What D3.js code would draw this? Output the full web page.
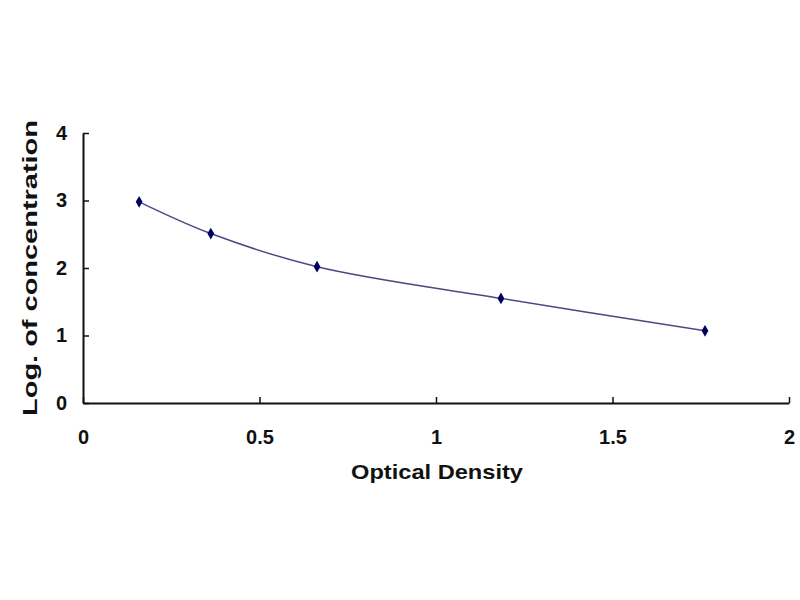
<!DOCTYPE html>
<html>
<head>
<meta charset="utf-8">
<script src="https://cdn.jsdelivr.net/npm/d3@7"></script>
<style>
  body { margin: 0; background: #fff; }
  text { font-family: "Liberation Sans", Arial, sans-serif; font-weight: bold; }
</style>
</head>
<body>
<script>
var w = 800;
var h = 600;

var od = [0.159, 0.362, 0.663, 1.184, 1.762];
var logConc = [2.98, 2.51, 2.02, 1.55, 1.07];
var xTicks = [0, 0.5, 1, 1.5, 2];
var yTicks = [0, 1, 2, 3, 4];

var xScale = d3.scaleLinear().domain([0, 2]).range([83, 789]);
var yScale = d3.scaleLinear().domain([0, 4]).range([403, 133]);

var svg = d3.select("body")
			.append("svg")
			.attr("width", w)
			.attr("height", h);

// axes, ticks pointing inward
svg.append("g")
	.attr("transform", "translate(0,403)")
	.call(d3.axisBottom(xScale).tickValues(xTicks).tickSizeInner(-6).tickSizeOuter(0).tickPadding(27).tickFormat(d3.format("")));
svg.append("g")
	.attr("transform", "translate(83,0)")
	.call(d3.axisLeft(yScale).tickValues(yTicks).tickSizeInner(-6).tickSizeOuter(0).tickPadding(16).tickFormat(d3.format("d")));

svg.selectAll(".domain").attr("stroke", "#111").attr("stroke-width", 2);
svg.selectAll(".tick line").attr("stroke", "#111").attr("stroke-width", 1.5);
svg.selectAll(".tick text").attr("font-size", 20).attr("fill", "#111");

svg.append("text")
	.attr("x", 437)
	.attr("y", 479)
	.attr("text-anchor", "middle")
	.attr("font-size", 21)
	.attr("fill", "#111")
	.attr("textLength", 172)
	.attr("lengthAdjust", "spacingAndGlyphs")
	.text("Optical Density");

svg.append("text")
	.attr("transform", "translate(37,268) rotate(-90)")
	.attr("text-anchor", "middle")
	.attr("font-size", 20)
	.attr("fill", "#111")
	.attr("textLength", 296)
	.attr("lengthAdjust", "spacingAndGlyphs")
	.text("Log. of concentration");

var pts = od.map(function(d, i) { return [d, logConc[i]]; });

var line = d3.line()
			.x(function(d) { return xScale(d[0]); })
			.y(function(d) { return yScale(d[1]); })
			.curve(d3.curveCatmullRom);

svg.append("path")
	.datum(pts)
	.attr("d", line)
	.attr("fill", "none")
	.attr("stroke", "#4a4a80")
	.attr("stroke-width", 1.5);

svg.selectAll(".pt")
	.data(pts)
	.enter()
	.append("path")
	.attr("class", "pt")
	.attr("transform", function(d) { return "translate(" + xScale(d[0]) + "," + yScale(d[1]) + ")"; })
	.attr("d", d3.symbol().type(d3.symbolDiamond).size(40))
	.attr("fill", "#000060");
</script>
</body>
</html>
